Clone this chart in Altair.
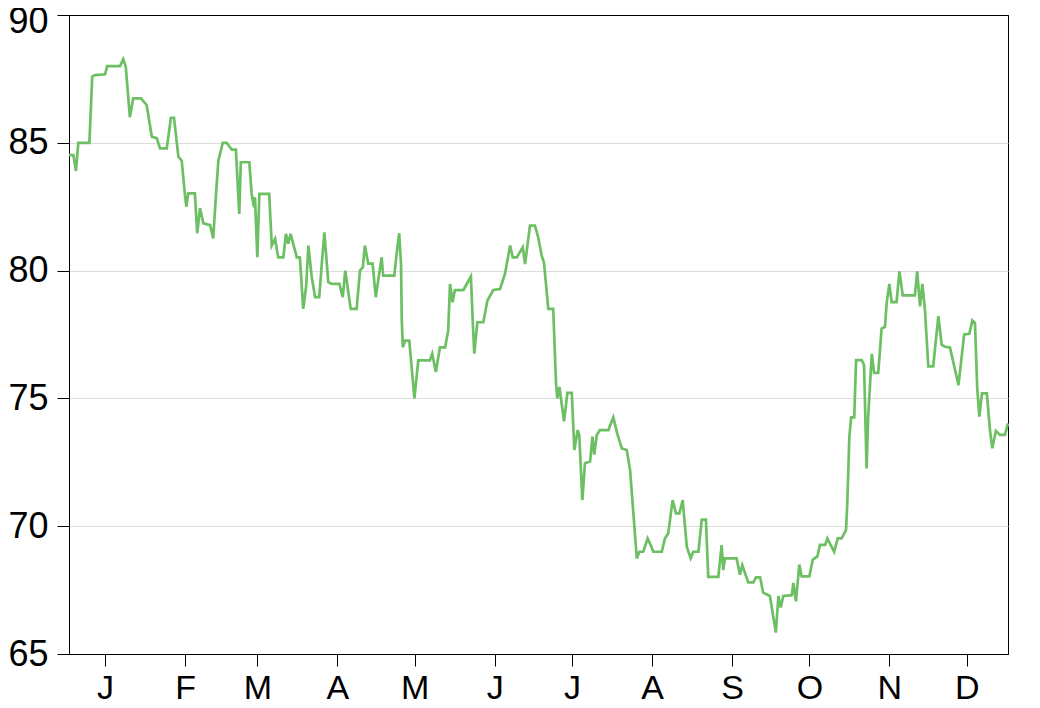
import altair as alt
import pandas as pd

# day of year (0 = Jan 1) and value
days = [
    0, 1.7, 2.7, 3.6, 7.9, 9.0, 10.1, 14.0, 14.8, 19.8, 21.0, 22.0, 23.6, 24.9, 27.9,
    30.1, 32.1, 34.0, 35.3, 37.9, 39.5, 40.7, 42.4, 43.7, 45.0, 45.5, 46.2, 48.8, 49.7,
    50.8, 52.1, 54.7, 55.9, 57.0, 57.9, 59.6, 61.1, 63.1, 64.7, 66.0, 66.6, 69.9, 70.8,
    71.7, 72.1, 73.0, 73.8, 77.6, 78.6, 79.9, 81.1, 83.1, 84.1, 85.0, 85.9, 88.3, 89.5,
    90.8, 91.9, 92.8, 94.1, 95.4, 97.0, 98.0, 99.0, 100.5, 101.8, 104.8, 106.1, 107.1,
    109.2, 111.5, 112.8, 113.9, 114.7, 116.0, 117.7, 118.9, 121.2, 121.8, 126.1, 127.0,
    128.0, 128.7, 129.0, 129.4, 130.3, 131.9, 133.9, 135.4, 139.9, 140.8, 142.2, 143.8,
    145.8, 147.0, 147.7, 148.7, 149.6, 152.9, 155.8, 156.5, 157.1, 158.3, 160.6, 162.2,
    164.5, 167.1, 169.0, 169.7, 171.0, 172.0, 173.6, 175.9, 176.8, 178.7, 180.6, 181.9,
    183.2, 184.1, 185.8, 187.7, 188.8, 189.3, 190.1, 191.9, 193.2, 194.9, 195.9, 197.2,
    197.8, 199.0, 200.0, 202.0, 202.9, 203.6, 204.6, 205.8, 209.1, 211.0, 212.5, 214.3,
    216.2, 217.5, 220.1, 221.1, 222.6, 224.3, 225.5, 226.5, 229.8, 231.0, 232.3, 234.0,
    235.3, 236.6, 237.9, 238.8, 239.5, 241.0, 242.0, 244.0, 245.3, 246.9, 247.8, 251.7,
    253.0, 253.6, 254.3, 258.8, 260.1, 261.0, 263.3, 265.3, 266.3, 267.9, 269.1, 271.7,
    274.0, 275.0, 275.9, 276.9, 280.2, 280.8, 281.8, 283.1, 284.0, 287.0, 288.3, 290.1,
    291.1, 293.1, 294.0, 296.6, 298.0, 299.5, 301.2, 301.7, 302.5, 303.2, 304.4, 305.1,
    307.3, 308.2, 309.0, 309.2, 309.8, 311.2, 312.1, 313.7, 315.0, 316.3, 317.0, 318.0,
    318.9, 320.8, 321.9, 323.2, 327.9, 328.8, 329.9, 330.8, 331.8, 333.1, 335.0, 337.0,
    338.3, 339.6, 341.5, 344.8, 347.0, 349.0, 350.2, 351.2, 352.1, 352.9, 353.9, 355.8,
    357.0, 357.9, 359.3, 360.9, 362.8, 364.0,
]
values = [
    84.52, 84.52, 83.9, 85.0, 85.0, 87.59, 87.65, 87.68, 88.0, 88.0, 88.27, 87.98, 86.0,
    86.74, 86.74, 86.48, 85.24, 85.18, 84.78, 84.78, 85.98, 85.98, 84.46, 84.3, 82.9,
    82.5, 83.02, 83.02, 81.46, 82.44, 81.85, 81.78, 81.26, 83.0, 84.3, 85.0, 85.0, 84.73,
    84.73, 82.22, 84.24, 84.24, 83.0, 82.48, 82.87, 80.52, 83.0, 83.0, 80.98, 81.24,
    80.52, 80.52, 81.44, 81.05, 81.44, 80.52, 80.52, 78.5, 79.35, 80.98, 79.74, 78.96,
    78.96, 80.27, 81.5, 79.55, 79.48, 79.48, 78.96, 80.0, 78.5, 78.5, 80.0, 80.13, 80.98,
    80.27, 80.27, 78.96, 80.52, 79.8, 79.8, 80.65, 81.46, 80.27, 78.05, 77.0, 77.26,
    77.26, 75.0, 76.49, 76.49, 76.75, 76.03, 77.0, 77.0, 77.66, 79.48, 78.76, 79.24,
    79.24, 79.77, 78.05, 76.75, 77.98, 77.98, 78.83, 79.24, 79.28, 79.87, 80.26, 80.98,
    80.52, 80.52, 80.91, 80.26, 81.76, 81.76, 81.3, 80.59, 80.33, 78.5, 78.5, 75.57, 75.0,
    75.45, 74.1, 75.22, 75.22, 72.98, 73.76, 73.57, 71.02, 72.46, 72.53, 73.5, 72.8,
    73.57, 73.76, 73.76, 74.26, 73.63, 73.04, 72.98, 72.2, 68.74, 69.0, 69.0, 69.52,
    69.26, 69.0, 69.0, 69.52, 69.72, 71.02, 70.5, 70.5, 71.02, 69.97, 69.19, 68.74, 69.0,
    69.0, 70.26, 70.26, 68.02, 68.02, 69.26, 68.28, 68.74, 68.74, 68.1, 68.48, 67.8, 67.8,
    68.0, 68.0, 67.4, 67.27, 65.84, 67.27, 66.82, 67.27, 67.3, 67.78, 67.06, 68.5, 68.04,
    68.04, 68.69, 68.82, 69.27, 69.27, 69.52, 69.0, 69.52, 69.52, 69.85, 70.89, 73.5,
    74.26, 74.26, 76.5, 76.5, 76.3, 72.98, 72.26, 74.29, 76.74, 76.0, 76.0, 77.73, 77.8,
    78.77, 79.48, 78.77, 78.77, 79.97, 79.03, 79.03, 79.97, 78.6, 79.48, 78.47, 76.25,
    76.25, 78.22, 77.09, 77.02, 76.99, 75.52, 77.5, 77.53, 78.05, 77.95, 75.33, 74.29,
    75.2, 75.2, 73.77, 73.05, 73.73, 73.57, 73.57, 74.02,
]
y_ticks = [65, 70, 75, 80, 85, 90]
month_ticks = [alt.DateTime(year=2014, month=m, date=15) for m in range(1, 13)]

start = pd.Timestamp("2014-01-01")
df = pd.DataFrame({
    "date": [start + pd.to_timedelta(d, unit="D") for d in days],
    "value": values,
})

FONT = "Liberation Sans"

chart = (
    alt.Chart(df)
    .mark_line(color="#6dbf64", strokeWidth=2.7)
    .encode(
        x=alt.X(
            "date:T",
            scale=alt.Scale(
                domain=[alt.DateTime(year=2014, month=1, date=1),
                        alt.DateTime(year=2014, month=12, date=31)],
                nice=False,
            ),
            axis=alt.Axis(
                values=month_ticks,
                labelExpr="substring(timeFormat(datum.value, '%b'), 0, 1)",
                title=None,
                grid=False,
                labelFont=FONT,
                labelFontSize=34,
                labelColor="black",
                labelPadding=5,
                tickSize=12,
                tickColor="black",
                domainColor="black",
                labelFlush=False,
                labelOverlap=False,
            ),
        ),
        y=alt.Y(
            "value:Q",
            scale=alt.Scale(domain=[65, 90], nice=False, zero=False),
            axis=alt.Axis(
                values=y_ticks,
                title=None,
                grid=True,
                gridColor=alt.condition(
                    "datum.value == 90 || datum.value == 65",
                    alt.value("black"),
                    alt.value("#dcdcdc"),
                ),
                labelFont=FONT,
                labelFontSize=36,
                labelColor="black",
                labelPadding=9,
                labelOffset=alt.condition("datum.value == 90", alt.value(6), alt.value(0)),
                tickSize=12,
                tickColor="black",
                domainColor="black",
                labelFlush=False,
                labelOverlap=False,
            ),
        ),
    )
    .properties(
        width=939,
        height=639,
        autosize=alt.AutoSizeParams(type="none"),
        padding={"left": 61, "top": 7, "right": 24, "bottom": 46},
    )
    .configure_view(stroke="black", strokeWidth=1)
)

chart.save("out.html", embed_options={"renderer": "svg", "actions": False})
